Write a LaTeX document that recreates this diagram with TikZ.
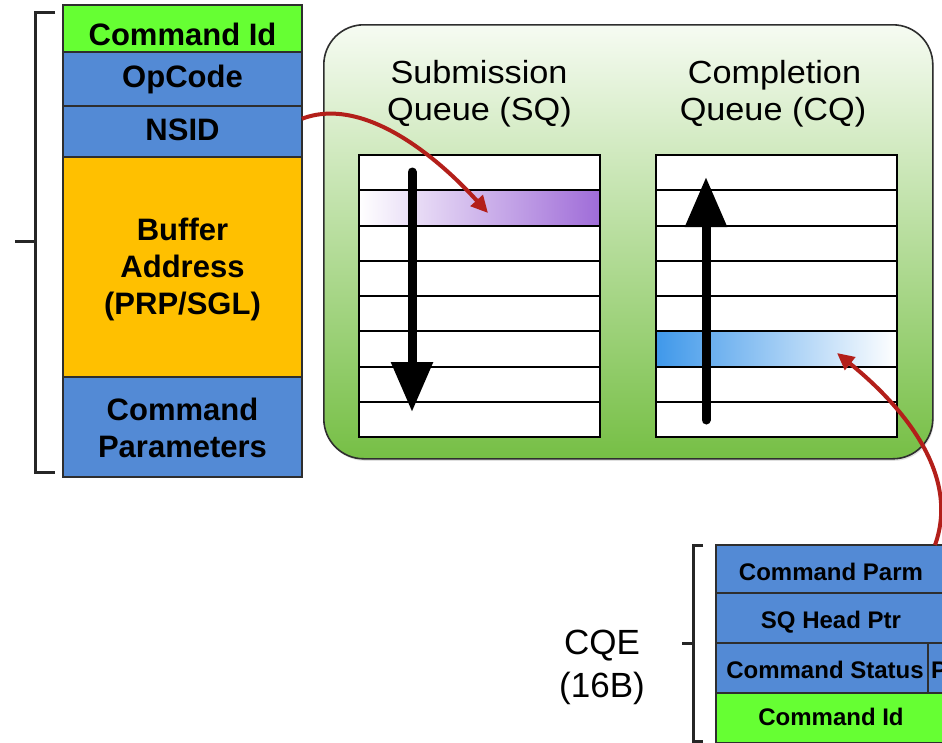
\documentclass[tikz,border=0pt]{standalone}
\usepackage{fontspec}
\setmainfont{Liberation Sans}
\newfontfamily\ttlfont[FakeStretch=1.07]{Liberation Sans}
\usetikzlibrary{arrows.meta,calc,shadows}

\definecolor{cidgreen}{HTML}{66FF33}
\definecolor{fieldblue}{HTML}{538AD5}
\definecolor{bufgold}{HTML}{FFC000}
\definecolor{cellline}{HTML}{2E2E2E}
\definecolor{qtop}{HTML}{F6FBF2}
\definecolor{qbot}{HTML}{76BF45}
\definecolor{sqpurple}{HTML}{9F6CD8}
\definecolor{cqblue}{HTML}{3F98EA}
\definecolor{linkred}{HTML}{B31F1A}

\begin{document}
\begin{tikzpicture}[x=1pt,y=-1pt,
  cell/.style={draw=cellline, line width=1.4pt, inner sep=0pt, outer sep=0pt,
    anchor=north west, minimum width=239pt},
  cqecell/.style={cell, minimum width=230pt, minimum height=50pt},
  qrow/.style={draw=black, line width=2pt, fill=white, inner sep=0pt, outer sep=0pt,
    anchor=north west, minimum width=241pt, minimum height=35.25pt},
  lbl/.style={font=\bfseries\fontsize{31}{37}\selectfont, inner sep=0pt, anchor=base},
  sml/.style={font=\bfseries\fontsize{24}{28}\selectfont, inner sep=0pt, anchor=base},
  ttl/.style={font=\ttlfont\fontsize{32}{37}\selectfont, inner sep=0pt, anchor=base},
  big/.style={font=\fontsize{35}{43}\selectfont, inner sep=0pt, anchor=base},
  brk/.style={draw=black!85, line width=3pt},
  flow/.style={line width=9pt, line cap=round, -{Triangle[length=50pt,width=40pt]}},
  link/.style={draw=linkred, line width=4pt, -{Triangle[length=17pt,width=16pt]}}]

\useasboundingbox (0,0) rectangle (942,742);
\clip (0,0) rectangle (942,742);
\fill[white] (0,0) rectangle (942,742);

% ---------- submission command layout ----------
\draw[brk] (55,12) -- (35,12) -- (35,472) -- (55,472);
\draw[brk] (15,241) -- (35,241);

\node[cell, fill=cidgreen,   minimum height=47pt]  (cid)  at (63,5)   {};
\node[cell, fill=fieldblue,  minimum height=54pt]  (opc)  at (63,52)  {};
\node[cell, fill=fieldblue,  minimum height=51pt]  (nsid) at (63,106) {};
\node[cell, fill=bufgold,    minimum height=220pt] (buf)  at (63,157) {};
\node[cell, fill=fieldblue,  minimum height=100pt] (cpar) at (63,377) {};

\node[lbl] (tcid)  at (182.5,45)  {Command Id};
\node[lbl] (topc)  at (182.5,87)  {OpCode};
\node[lbl] (tnsid) at (182.5,140) {NSID};
\node[lbl] (tbuf1) at (182.5,240) {Buffer};
\node[lbl] (tbuf2) at (182.5,277) {Address};
\node[lbl] (tbuf3) at (182.5,314) {(PRP/SGL)};
\node[lbl] (tpar1) at (182.5,420) {Command};
\node[lbl] (tpar2) at (182.5,457) {Parameters};

% ---------- queue pair ----------
\node[draw=cellline, line width=1.6pt, rounded corners=40pt, anchor=north west,
      minimum width=609pt, minimum height=434pt, inner sep=0pt,
      top color=qtop, bottom color=qbot,
      drop shadow={opacity=0.25, shadow xshift=1pt, shadow yshift=-2pt}]
      (queues) at (323,24) {};

\node[ttl] (sqt1) at (479,83)   {Submission};
\node[ttl] (sqt2) at (479.5,120) {Queue (SQ)};
\node[ttl] (cqt1) at (774.5,83) {Completion};
\node[ttl] (cqt2) at (773,120)  {Queue (CQ)};

\foreach \k in {0,...,7} {
  \node[qrow] (sq\k) at (359,155+\k*35.25) {};
  \node[qrow] (cq\k) at (656,155+\k*35.25) {};
}
\node[qrow, left color=white, right color=sqpurple] (sqnew) at (359,190.25) {};
\node[qrow, left color=cqblue, right color=white]   (cqnew) at (656,331.25) {};
\draw[line width=2pt] (sq0.north west) rectangle (sq7.south east);
\draw[line width=2pt] (cq0.north west) rectangle (cq7.south east);

\coordinate (sqhead) at (412,172);
\coordinate (sqtail) at (412,412);
\coordinate (cqtail) at (706,420);
\coordinate (cqhead) at (706,177);
\draw[flow] (sqhead) -- (sqtail);
\draw[flow] (cqtail) -- (cqhead);

% ---------- completion queue entry ----------
\draw[brk] (703,545) -- (693,545) -- (693,741) -- (703,741);
\draw[brk] (682,643) -- (693,643);

\node[cqecell, fill=fieldblue] (cp)    at (716,545) {};
\node[cqecell, fill=fieldblue] (sqh)   at (716,593) {};
\node[cell, fill=fieldblue, minimum width=212pt, minimum height=50pt] (cst) at (716,643) {};
\node[cell, fill=fieldblue, minimum width=40pt,  minimum height=50pt] (ph)  at (928,643) {};
\node[cqecell, fill=cidgreen]  (ccid)  at (716,693) {};

\node[sml] (tcp)  at (831,580) {Command Parm};
\node[sml] (tsqh) at (831,628) {SQ Head Ptr};
\node[sml] (tcst) at (825,678) {Command Status};
\node[sml, anchor=base west] (tph) at (931,678) {P};
\node[sml] (tccid) at (831,725) {Command Id};

\node[big] (cqe1) at (602,654) {CQE};
\node[big] (cqe2) at (602,697) {(16B)};

% ---------- links ----------
\coordinate (r1s) at ($(nsid.north east)!0.25!(nsid.south east)$);
\coordinate (r1e) at (488,213);
\draw[link] (r1s) .. controls +(63,-24) and +(-48,-53) .. (r1e);

\coordinate (r2s) at ($(cp.north east)+(-11,0)$);
\coordinate (r2e) at (837,353);
\draw[link] (r2s) .. controls +(27,-75) and +(58,47) .. (r2e);
\end{tikzpicture}
\end{document}
